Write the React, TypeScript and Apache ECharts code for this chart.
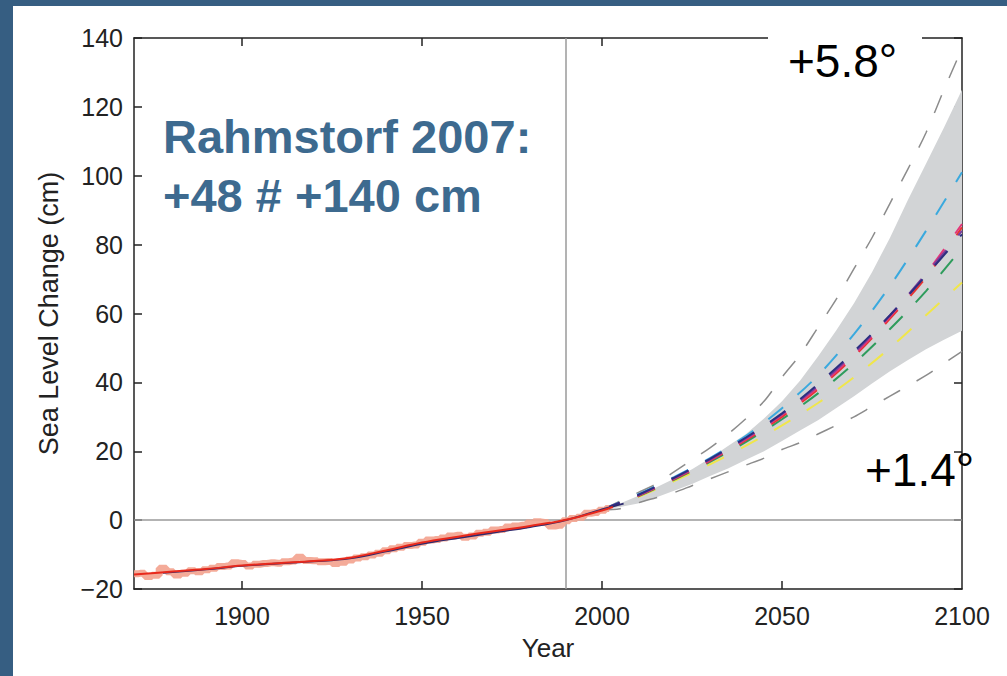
import React, { useEffect, useRef } from "react";
import * as echarts from "echarts";

// Observed sea level (annual-ish, noisy)
const obsYears = [1870, 1872, 1874, 1876, 1878, 1880, 1882, 1884, 1886, 1888, 1890, 1892, 1894, 1896, 1898, 1900, 1902, 1904, 1906, 1908, 1910, 1912, 1914, 1916, 1918, 1920, 1922, 1924, 1926, 1928, 1930, 1932, 1934, 1936, 1938, 1940, 1942, 1944, 1946, 1948, 1950, 1952, 1954, 1956, 1958, 1960, 1962, 1964, 1966, 1968, 1970, 1972, 1974, 1976, 1978, 1980, 1982, 1984, 1986, 1988, 1990, 1992, 1994, 1996, 1998, 2000, 2002];
const obsVals = [-15.6, -15.4, -16.4, -16.0, -14.0, -15.0, -15.9, -15.4, -14.7, -15.0, -14.4, -14.0, -13.5, -13.3, -12.4, -12.6, -13.3, -12.8, -12.6, -12.4, -12.5, -12.1, -11.9, -10.8, -11.7, -11.8, -12.1, -12.0, -12.6, -12.2, -11.6, -11.0, -10.6, -10.1, -9.6, -8.9, -8.3, -7.9, -7.4, -7.2, -6.4, -5.8, -5.6, -5.2, -4.6, -4.4, -5.0, -4.6, -3.8, -3.5, -2.9, -2.7, -2.0, -1.7, -1.5, -0.8, -0.5, -0.7, -1.7, -1.5, -0.2, 0.5, 0.8, 2.0, 2.2, 2.9, 3.4];

// Smoothed fits
const redYears = [1870, 1880, 1890, 1900, 1910, 1920, 1930, 1940, 1950, 1960, 1970, 1980, 1990, 2000, 2003];
const redVals = [-15.8, -15.0, -14.2, -13.2, -12.5, -11.9, -10.9, -8.8, -6.5, -4.8, -3.2, -1.7, 0.1, 2.8, 3.8];
const navyYears = [1878, 1890, 1900, 1910, 1920, 1930, 1940, 1950, 1960, 1970, 1980, 1990, 2000, 2006];
const navyVals = [-15.3, -14.3, -13.3, -12.6, -12.0, -11.1, -9.1, -6.9, -5.2, -3.6, -2.0, 0.0, 3.1, 4.8];

// Projection envelope (5-year steps)
const bandYears = [2000, 2005, 2010, 2015, 2020, 2025, 2030, 2035, 2040, 2045, 2050, 2055, 2060, 2065, 2070, 2075, 2080, 2085, 2090, 2095, 2100];
const bandUpper = [3, 4.8, 7, 9.5, 12, 14.8, 18, 21.5, 25, 29.5, 34.5, 40.5, 47.5, 55, 63, 72, 82, 93, 103.5, 114, 125];
const bandLower = [3, 3.8, 4.8, 6.6, 8.5, 10.5, 12.8, 15, 17.5, 20, 23, 26, 29, 32.5, 36, 39.7, 43.2, 46.5, 49.6, 52.4, 55];
const dashUpper = [3, 5.5, 8, 10.5, 14, 17.5, 21, 25, 29.5, 34.5, 41.5, 48, 56, 64, 73, 82, 92, 102, 112.5, 125, 137];
const dashLower = [3, 3.3, 5, 6.5, 8, 10, 12, 14, 16, 18, 20.5, 22.5, 25, 27.5, 30, 33, 36, 39, 42, 45.5, 49];

// Scenario projections (10-year steps)
const scenYears = [2000, 2010, 2020, 2030, 2040, 2050, 2060, 2070, 2080, 2090, 2100];
const scenCyan = [3, 7.5, 12.5, 18, 24.5, 32.5, 42, 54, 68, 84, 101];
const scenNavy = [3, 7.3, 12.3, 17.8, 24, 31, 39.5, 49, 59.5, 71, 83];
const scenPurple = [3, 7.2, 12.2, 17.6, 23.8, 30.8, 39, 48.5, 59.5, 71.5, 84];
const scenMagenta = [3, 7.1, 12, 17.4, 23.5, 30.5, 38.5, 48, 59, 71.5, 86];
const scenRed = [3, 7, 11.9, 17.2, 23.2, 30, 38, 47.5, 58.5, 70.5, 85];
const scenGreen = [3, 6.9, 11.7, 16.9, 22.7, 29.3, 36.8, 45.5, 55.5, 66.5, 79];
const scenYellow = [3, 6.7, 11.3, 16.2, 21.6, 27.5, 34, 41.5, 50, 59.5, 69];

const xTicks = [1900, 1950, 2000, 2050];
const xLabels = [1900, 1950, 2000, 2050, 2100];
const Y_MIN = -20;
const Y_MAX = 140;
const FONT = "'Liberation Sans', Arial, Helvetica, sans-serif";
const TICK_PX = 8;

const zip = (xs: number[], ys: number[]) => xs.map((x, i) => [x, ys[i]]);

export default function App() {
  const ref = useRef<HTMLDivElement>(null);
  useEffect(() => {
    if (!ref.current) return;
    const chart = echarts.init(ref.current, undefined, { renderer: "svg" });
    const dashed = [19, 19];
    const scen = (name: string, vals: number[], color: string) => ({
      name,
      type: "line",
      data: zip(scenYears, vals),
      smooth: 0.3,
      showSymbol: false,
      z: 4,
      lineStyle: { color, width: 2, type: dashed },
    });
    const axisLineStyle = { color: "#222", width: 1.5 };
    const axisLine = { show: true, onZero: false, lineStyle: axisLineStyle };
    const baseGraphics: any[] = [
      { type: "rect", z: 100, shape: { x: 0, y: 0, width: 1007, height: 6 }, style: { fill: "#365e82" } },
      { type: "rect", z: 100, shape: { x: 0, y: 0, width: 13, height: 676 }, style: { fill: "#365e82" } },
      { type: "rect", z: 100, shape: { x: 768, y: 30, width: 154, height: 20 }, style: { fill: "#ffffff" } },
      {
        type: "text",
        z: 101,
        x: 163,
        y: 136,
        style: { text: "Rahmstorf 2007:", fill: "#3d6a8f", font: `bold 47px ${FONT}`, verticalAlign: "middle", align: "left" },
      },
      {
        type: "text",
        z: 101,
        x: 163,
        y: 195,
        style: { text: "+48 # +140 cm", fill: "#3d6a8f", font: `bold 47px ${FONT}`, verticalAlign: "middle", align: "left" },
      },
      {
        type: "text",
        z: 101,
        x: 788,
        y: 61,
        style: { text: "+5.8°", fill: "#000000", font: `46px ${FONT}`, verticalAlign: "middle", align: "left" },
      },
      {
        type: "text",
        z: 101,
        x: 865,
        y: 470,
        style: { text: "+1.4°", fill: "#000000", font: `46px ${FONT}`, verticalAlign: "middle", align: "left" },
      },
    ];
    const option: any = {
      animation: false,
      backgroundColor: "#ffffff",
      grid: { left: 134, right: 45, top: 38, bottom: 87, containLabel: false, outerBoundsMode: "none" },
      xAxis: [
        {
          type: "value",
          min: 1870,
          max: 2100,
          position: "bottom",
          name: "Year",
          nameLocation: "middle",
          nameGap: 46,
          nameTextStyle: { fontFamily: FONT, fontSize: 26, color: "#222" },
          axisLine,
          axisTick: { show: false },
          axisLabel: {
            customValues: xLabels,
            fontFamily: FONT,
            fontSize: 25,
            color: "#222",
            margin: 14,
            formatter: (v: number) => String(v),
          },
          splitLine: { show: false },
        },
        {
          type: "value",
          min: 1870,
          max: 2100,
          position: "top",
          axisLine,
          axisTick: { show: false },
          axisLabel: { show: false },
          splitLine: { show: false },
        },
      ],
      yAxis: [
        {
          type: "value",
          min: Y_MIN,
          max: Y_MAX,
          interval: 20,
          position: "left",
          name: "Sea Level Change (cm)",
          nameLocation: "middle",
          nameGap: 72,
          nameTextStyle: { fontFamily: FONT, fontSize: 27, color: "#222" },
          axisLine,
          axisTick: { show: true, inside: true, length: TICK_PX, lineStyle: axisLineStyle },
          axisLabel: {
            fontFamily: FONT,
            fontSize: 25,
            color: "#222",
            margin: 11,
            formatter: (v: number) => (v < 0 ? "\u2212" + Math.abs(v) : String(v)),
          },
          splitLine: { show: false },
        },
        {
          type: "value",
          min: Y_MIN,
          max: Y_MAX,
          interval: 20,
          position: "right",
          axisLine,
          axisTick: { show: true, inside: true, length: TICK_PX, lineStyle: axisLineStyle },
          axisLabel: { show: false },
          splitLine: { show: false },
        },
      ],
      series: [
        {
          name: "refLines",
          type: "line",
          data: [[1990, 0]],
          showSymbol: false,
          lineStyle: { opacity: 0 },
          z: 1,
          markLine: {
            silent: true,
            symbol: "none",
            label: { show: false },
            lineStyle: { color: "#9a9a9a", width: 1.5, type: "solid" },
            data: [{ xAxis: 1990 }, { yAxis: 0 }],
          },
        },
        {
          name: "band",
          type: "custom",
          data: bandYears.map((y, i) => [y, bandLower[i], bandUpper[i]]),
          encode: { x: 0, y: [1, 2] },
          z: 2,
          renderItem: (params: any, api: any) => {
            if (params.dataIndex !== 0) return null;
            const pts: number[][] = [];
            for (let i = 0; i < bandYears.length; i++) pts.push(api.coord([bandYears[i], bandUpper[i]]));
            for (let i = bandYears.length - 1; i >= 0; i--) pts.push(api.coord([bandYears[i], bandLower[i]]));
            return { type: "polygon", shape: { points: pts }, style: { fill: "#d2d4d6" } };
          },
        },
        {
          name: "upperDash",
          type: "line",
          data: zip(bandYears, dashUpper),
          smooth: 0.3,
          showSymbol: false,
          z: 3,
          lineStyle: { color: "#8c8c8c", width: 1.5, type: dashed },
        },
        {
          name: "lowerDash",
          type: "line",
          data: zip(bandYears, dashLower),
          smooth: 0.3,
          showSymbol: false,
          z: 3,
          lineStyle: { color: "#8c8c8c", width: 1.5, type: dashed },
        },
        scen("cyan", scenCyan, "#3aa9de"),
        scen("yellow", scenYellow, "#f0e64a"),
        scen("green", scenGreen, "#2e9c5c"),
        scen("red", scenRed, "#e8332f"),
        scen("magenta", scenMagenta, "#e33679"),
        scen("purple", scenPurple, "#7a3d9c"),
        scen("navy", scenNavy, "#2c2f80"),
        {
          name: "observed",
          type: "line",
          data: zip(obsYears, obsVals),
          step: "middle",
          showSymbol: false,
          z: 5,
          lineStyle: { color: "#f3a28e", width: 7, opacity: 0.9 },
        },
        {
          name: "navyFit",
          type: "line",
          data: zip(navyYears, navyVals),
          smooth: 0.4,
          showSymbol: false,
          z: 6,
          lineStyle: { color: "#2d2a6e", width: 1.8 },
        },
        {
          name: "redFit",
          type: "line",
          data: zip(redYears, redVals),
          smooth: 0.4,
          showSymbol: false,
          z: 7,
          lineStyle: { color: "#e8291c", width: 2 },
        },
      ],
      graphic: { elements: baseGraphics },
    };
    chart.setOption(option);

    // X-axis tick marks (bottom and top), positioned through the chart's own scales
    const tickGraphics: any[] = [];
    xTicks.forEach((v) => {
      const b = chart.convertToPixel({ xAxisIndex: 0, yAxisIndex: 0 }, [v, Y_MIN]) as number[];
      const t = chart.convertToPixel({ xAxisIndex: 0, yAxisIndex: 0 }, [v, Y_MAX]) as number[];
      if (!b || !t) return;
      const st = { stroke: "#222", lineWidth: 1.5 };
      tickGraphics.push({ type: "line", z: 50, shape: { x1: b[0], y1: b[1], x2: b[0], y2: b[1] - TICK_PX }, style: st });
      tickGraphics.push({ type: "line", z: 50, shape: { x1: t[0], y1: t[1], x2: t[0], y2: t[1] + TICK_PX }, style: st });
    });
    chart.setOption({ graphic: { elements: [...baseGraphics, ...tickGraphics] } });

    return () => chart.dispose();
  }, []);
  return (
    <div style={{ position: "absolute", left: 0, top: 0, width: 1007, height: 676, background: "#fff" }}>
      <div ref={ref} style={{ width: 1007, height: 676 }} />
    </div>
  );
}
